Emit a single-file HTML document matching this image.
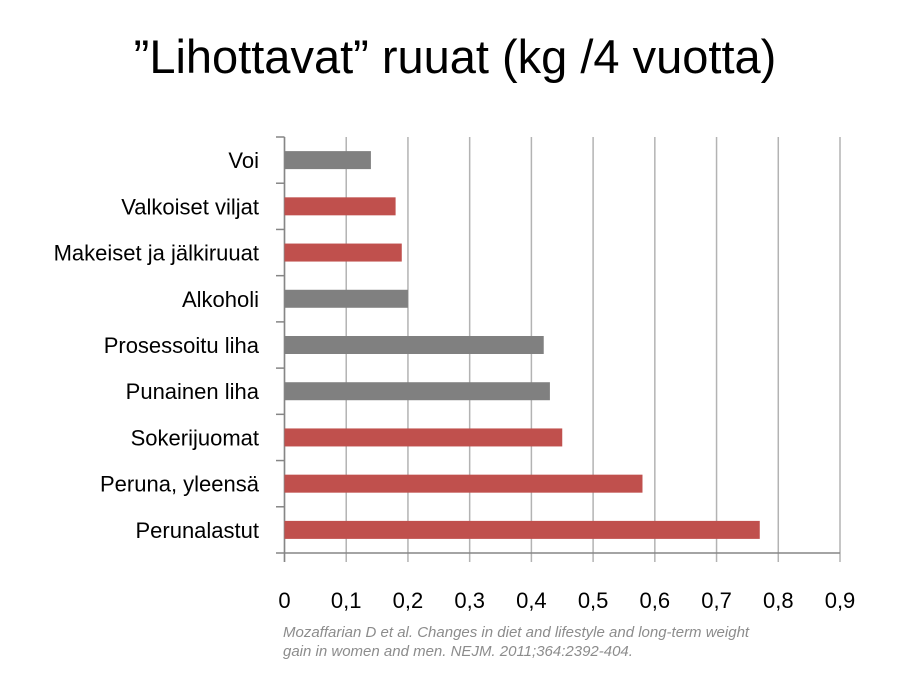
<!DOCTYPE html>
<html><head><meta charset="utf-8"><style>
body{margin:0;background:#fff;width:923px;height:686px;overflow:hidden;font-family:"Liberation Sans",sans-serif}
</style></head><body>
<svg width="923" height="686">
<text x="455" y="73" text-anchor="middle" font-size="47" fill="#000">”Lihottavat” ruuat (kg /4 vuotta)</text>
<g id="plot"></g>
<text x="283" y="637" font-size="15" font-style="italic" fill="#8c8c8c">Mozaffarian D et al. Changes in diet and lifestyle and long-term weight</text>
<text x="283" y="656" font-size="15" font-style="italic" fill="#8c8c8c">gain in women and men. NEJM. 2011;364:2392-404.</text>
</svg>
<script>
const categories=["Voi","Valkoiset viljat","Makeiset ja jälkiruuat","Alkoholi","Prosessoitu liha","Punainen liha","Sokerijuomat","Peruna, yleensä","Perunalastut"];
const values=[0.14,0.18,0.19,0.20,0.42,0.43,0.45,0.58,0.77];
const colors=["#808080","#c0504d","#c0504d","#808080","#808080","#808080","#c0504d","#c0504d","#c0504d"];
const ticks=[0,0.1,0.2,0.3,0.4,0.5,0.6,0.7,0.8,0.9];
const tickLabels=["0","0,1","0,2","0,3","0,4","0,5","0,6","0,7","0,8","0,9"];
const NS="http://www.w3.org/2000/svg";
const plotG=document.getElementById('plot');
const x0=284.5,x1=840,yTop=137,yBottom=553,band=(yBottom-yTop)/categories.length;
const xs=v=>x0+(v/0.9)*(x1-x0);
function mk(t,a){const e=document.createElementNS(NS,t);for(const k in a)e.setAttribute(k,a[k]);plotG.appendChild(e);return e;}
ticks.forEach((t,i)=>{
 const l=mk('line',{x1:xs(t),x2:xs(t),y1:yTop,y2:yBottom+9,stroke:'#b3b3b3','stroke-width':1.5});
 
 
 const tx=mk('text',{x:xs(t),y:608,'text-anchor':'middle','font-size':22,fill:'#000'});
 tx.textContent=tickLabels[i];
 
 
});
const ax=mk('line',{x1:x0,x2:x0,y1:yTop,y2:yBottom+9,stroke:'#868686','stroke-width':1.5});


const bx=mk('line',{x1:276,x2:x1,y1:yBottom,y2:yBottom,stroke:'#868686','stroke-width':1.5});


for(let i=0;i<categories.length;i++){
 const tk=mk('line',{x1:276,x2:x0,y1:yTop+i*band,y2:yTop+i*band,stroke:'#868686','stroke-width':1.5});
 
 
}
categories.forEach((c,i)=>{
 const cy=yTop+band*(i+0.5);
 const r=mk('rect',{x:x0,y:cy-9,width:xs(values[i])-x0,height:18,fill:colors[i]});
 
 
 const t=mk('text',{x:259,y:cy+8,'text-anchor':'end','font-size':22,fill:'#000'});
 t.textContent=c;
 
 
});
</script>
</body></html>
